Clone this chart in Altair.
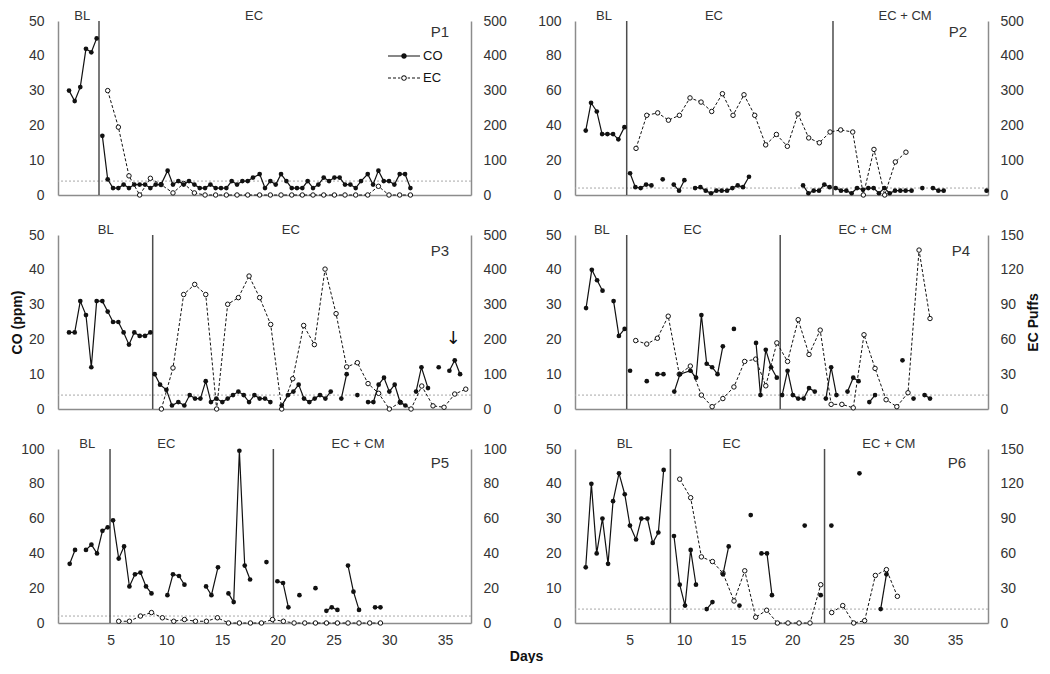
import altair as alt
import pandas as pd

FONT = "Liberation Sans"
INK = "#111111"
FRAME = "#8c8c8c"
PHASE = "#4d4d4d"
THRESH = "#a8a8a8"
TXT = "#333333"

X_TICKS = [5, 10, 15, 20, 25, 30, 35]
LEFT_DOMAIN = [0.27, 37.34]
RIGHT_DOMAIN = [-0.05, 38.05]
CO_LIMIT = 4

# ---------------- P1 ----------------
p1_co_day = [1.26, 1.77, 2.27, 2.78, 3.26, 3.74, None,
             4.25, 4.73, 5.21, 5.69, 6.16, 6.64, 7.12, 7.60, 8.08, 8.56, 9.04, 9.52, 10.11, 10.59,
             11.07, 11.55, 12.03, 12.51, 12.99, 13.47, 13.95, 14.42, 14.90, 15.38, 15.86, 16.34,
             16.82, 17.30, 17.77, 18.37, 18.85, 19.33, 19.81, 20.29, 20.77, 21.25, 21.72, 22.20,
             22.68, 23.16, 23.64, 24.12, 24.60, 25.08, 25.55, 26.03, 26.51, 26.99, 27.47, 28.07,
             28.55, 29.03, 29.51, 29.98, 30.46, 30.94, 31.42, 31.90]
p1_co = [30, 27, 31, 42, 41, 45, None,
         17, 4.5, 2, 2, 3, 2, 3, 3, 3, 2, 3, 3, 7, 3,
         4, 3, 4, 3, 2, 2, 3, 2, 2, 2, 4, 3,
         4, 4, 5, 6, 2, 4, 3, 6, 4, 2, 2, 2,
         4, 2, 3, 5, 4, 5, 5, 3, 3, 2, 4, 6,
         3, 7, 4, 4, 3, 6, 6, 2]
p1_ec_day = [4.73, 5.69, 6.64, 7.60, 8.56, 9.52, 10.59, 11.55, 12.51, 13.47, 14.42, 15.38, 16.34,
             17.30, 18.37, 19.33, 20.29, 21.25, 22.20, 23.16, 24.12, 25.08, 26.03, 26.99, 28.07,
             29.03, 29.98, 30.94, 31.90]
p1_ec = [300, 195, 55, 0, 48, 30, 6, 33, 6, 0, 0, 0, 0,
         0, 0, 0, 0, 0, 0, 0, 0, 0, 0, 0, 0,
         25, 0, 0, 0]

# ---------------- P2 ----------------
p2_co_day = [0.94, 1.43, 1.96, 2.45, 2.94, 3.46, 3.95, 4.51, None,
             5.03, 5.52, 6.01, 6.51, 7.00, None, 8.04, None, 9.06, 9.55, 10.04, None,
             11.03, 11.52, 12.01, 12.50, 12.99, 13.48, 13.98, 14.47, 14.96, 15.45, 16.00, None,
             20.99, 21.48, 21.97, 22.46, 22.95, 23.44, None,
             24.00, 24.49, 24.98, 25.47, 25.97, 26.52, 27.01, 27.50, 27.99, 28.49, 28.98, 29.47,
             29.96, 30.45, 31.00, None,
             31.99, None, 32.97, 33.47, 33.96, None, 37.92]
p2_co = [37, 53, 48, 35, 35, 35, 32, 39, None,
         12.5, 4.5, 4, 6, 5.5, None, 9, None, 6, 2.5, 8.5, None,
         4, 4.5, 2.5, 1, 2.5, 2.5, 2.5, 4, 5.5, 4.5, 10.5, None,
         5.5, 1, 2.5, 2.5, 6, 4.5, None,
         4, 2.5, 2.5, 1, 4, 3, 4, 4, 1, 4, 1, 2.5,
         2.5, 2.5, 2.5, None,
         4, None, 4, 2.5, 2.5, None, 2.5]
p2_ec_day = [5.58, 6.57, 7.58, 8.57, 9.58, 10.56, 11.58, 12.56, 13.55, 14.53, 15.54, 16.53, 17.54,
             18.53, 19.54, 20.52, 21.51, 22.49, 23.48, 24.46, 25.57, 26.55, 27.53, 28.52, 29.50,
             30.48]
p2_ec = [134, 229, 236, 215, 229, 279, 267, 240, 291, 229, 288, 229, 144,
         174, 140, 233, 164, 150, 181, 187, 181, 0, 131, 0, 95,
         123]

# ---------------- P3 ----------------
p3_co_day = [1.26, 1.77, 2.27, 2.78, 3.26, 3.74, 4.25, 4.73, 5.21, 5.69, 6.16, 6.64, 7.12, 7.60,
             8.08, 8.56, None,
             8.95, 9.43, 10.00, 10.50, 11.07, 11.61, 12.09, 12.57, 13.05, 13.53, 14.00, 14.48,
             15.02, 15.50, 15.98, 16.46, 16.94, 17.42, 17.90, 18.37, 18.85, 19.33, None,
             20.35, 20.92, 21.40, 21.87, 22.35, 22.83, 23.31, 23.79, 24.27, 24.75, None,
             25.70, 26.18, None, 27.14, None,
             28.10, 28.58, 29.05, 29.53, 30.01, 30.49, 30.97, 31.45, None,
             32.41, 32.89, 33.48, None, 34.44, None, 35.40, 35.88, 36.36]
p3_co = [22, 22, 31, 27, 12, 31, 31, 28, 25, 25, 22, 18.5, 22, 21,
         21, 22, None,
         10, 7, 5.5, 1, 2, 1, 4, 3, 3, 8, 2, 3,
         2, 3, 4, 5, 4, 2, 4, 3, 3, 2, None,
         1, 4, 5, 7, 3, 2, 3, 4, 3, 5, None,
         3, 10, None, 4, None,
         2, 2, 7, 9, 5, 7, 2, 1, None,
         5, 12, 6, None, 12, None, 11, 14, 10]
p3_ec_day = [9.55, 10.59, 11.55, 12.54, 13.53, 14.51, 15.50, 16.46, 17.42, 18.37, 19.36, 20.35,
             21.34, 22.32, 23.28, 24.24, 25.23, 26.18, 27.14, 28.10, 29.05, 30.01, 31.00, 31.96,
             32.92, 33.93, 34.92, 35.88, 36.87]
p3_ec = [0, 118, 329, 358, 329, 0, 301, 320, 382, 320, 243, 0,
         87, 240, 185, 402, 274, 121, 133, 73, 45, 0, 19, 0,
         66, 9, 5, 43, 57]

# ---------------- P4 ----------------
p4_co_day = [0.97, 1.50, 1.99, 2.49, None, 3.51, 4.00, 4.53, None,
             5.03, None, 6.57, None, 7.55, 8.11, None,
             9.11, 9.63, 10.59, 11.12, 11.61, 12.10, 12.60, 13.10, 13.59, None, 14.61, None,
             16.65, 17.06, 17.55, 18.04, 18.57, None,
             19.06, 19.56, 20.05, 20.54, 21.04, 21.54, 22.07, None,
             23.09, 23.58, 24.07, None, 25.09, 25.62, 26.11, None, 27.10, 27.63, None,
             30.16, None, 31.18, None, 32.20, 32.70]
p4_co = [29, 40, 37, 34, None, 31, 21, 23, None,
         11, None, 8, None, 10, 10, None,
         5, 10, 11, 9, 27, 13, 12, 10, 18, None, 23, None,
         19, 4, 17, 12, 9, None,
         4, 11, 4, 3, 3, 6, 5, None,
         3, 12, 4, None, 5, 9, 8, None, 2, 4, None,
         14, None, 3, None, 4, 3]
p4_ec_day = [5.55, 6.57, 7.55, 8.55, 9.57, 10.59, 11.61, 12.60, 13.59, 14.61, 15.60, 16.62, 17.55,
             18.57, 19.56, 20.54, 21.54, 22.57, 23.58, 24.57, 25.62, 26.61, 27.63, 28.65, 29.64,
             30.67, 31.69, 32.70]
p4_ec = [59, 56, 61, 80, 30, 37, 12, 2, 9, 19, 41, 43, 20,
         57, 41, 77, 47, 68, 4, 4, 1, 64, 35, 8, 2,
         14, 137, 78]

# ---------------- P5 ----------------
p5_co_day = [1.32, 1.80, None, 2.78, 3.27, 3.77, 4.26, 4.73, None,
             5.21, 5.72, 6.20, 6.68, 7.18, 7.67, 8.17, 8.66, None,
             10.09, 10.59, 11.13, 11.62, None, 13.56, 14.04, 14.63, None,
             15.57, 16.04, 16.55, 17.03, 17.51, None, 18.98, None,
             19.96, 20.47, 20.95, None, 21.94, None, 23.38, None,
             24.36, 24.84, 25.35, None, 26.30, 26.79, 27.29, None, 28.73, 29.21]
p5_co = [34, 42, None, 42, 45, 40, 53, 55, None,
         59, 37, 44, 21, 28, 29, 21, 17, None,
         16, 28, 27, 22, None, 21, 16, 32, None,
         17, 12, 99, 33, 25, None, 35, None,
         24, 23, 9, None, 16, None, 20, None,
         7, 9, 7.5, None, 33, 18, 7.5, None, 9, 9]
p5_ec_day = [5.72, 6.68, 7.67, 8.66, 9.64, 10.66, 11.62, 12.61, 13.59, 14.58, 15.57, 16.55, 17.54,
             18.53, 19.52, 20.50, 21.46, 22.42, 23.38, 24.37, 25.35, 26.30, 27.29, 28.25, 29.21]
p5_ec = [1, 1, 4, 6, 3, 1, 2, 1, 1, 3, 0, 0, 0,
         0, 2, 1, 0, 0, 0, 0, 0, 0, 0, 0, 0]

# ---------------- P6 ----------------
p6_co_day = [0.94, 1.46, 1.95, 2.48, 3.00, 3.46, 4.01, 4.54, 5.02, 5.58, 6.07, 6.63, 7.12, 7.64,
             8.13, None,
             9.08, 9.61, 10.10, 10.62, 11.11, None, 12.10, 12.63, None, 13.60, 14.13, None,
             15.12, None, 16.16, None, 17.15, 17.66, 18.12, None, 21.14, None, 22.62, None,
             23.60, None, 26.19, None, 28.15, 28.68]
p6_co = [16, 40, 20, 30, 17, 35, 43, 37, 28, 24, 30, 30, 23, 26,
         44, None,
         25, 11, 5, 21, 11, None, 4, 6, None, 14, 22, None,
         5, None, 31, None, 20, 20, 8, None, 28, None, 8, None,
         28, None, 43, None, 4, 14]
p6_ec_day = [9.61, 10.62, 11.61, 12.63, 13.60, 14.62, 15.61, 16.62, 17.63, 18.62, 19.60, 20.62,
             21.63, 22.62, None,
             23.63, 24.65, 25.66, 26.67, 27.66, 28.68, 29.69]
p6_ec = [124, 108, 57, 53, 43, 19, 45, 5, 11, 0, 0, 0,
         0, 33, None,
         9, 15, 0, 2, 41, 46, 23]

PANELS = [
    dict(tag="P1", co_day=p1_co_day, co=p1_co, ec_day=p1_ec_day, ec=p1_ec,
         phases=[3.95], labels=[("BL", 2.45), ("EC", 17.87)],
         co_max=50, co_step=10, ec_max=500, ec_step=100, xdom=LEFT_DOMAIN, tag_xy=(382, 11)),
    dict(tag="P2", co_day=p2_co_day, co=p2_co, ec_day=p2_ec_day, ec=p2_ec,
         phases=[4.72, 23.75], labels=[("BL", 2.63), ("EC", 12.77), ("EC + CM", 30.4)],
         co_max=100, co_step=20, ec_max=500, ec_step=100, xdom=RIGHT_DOMAIN, tag_xy=(383, 11)),
    dict(tag="P3", co_day=p3_co_day, co=p3_co, ec_day=p3_ec_day, ec=p3_ec,
         phases=[8.77], labels=[("BL", 4.55), ("EC", 21.16)],
         co_max=50, co_step=10, ec_max=500, ec_step=100, xdom=LEFT_DOMAIN, tag_xy=(382, 16)),
    dict(tag="P4", co_day=p4_co_day, co=p4_co, ec_day=p4_ec_day, ec=p4_ec,
         phases=[4.72, 18.88], labels=[("BL", 2.43), ("EC", 10.8), ("EC + CM", 26.7)],
         co_max=50, co_step=10, ec_max=150, ec_step=30, xdom=RIGHT_DOMAIN, tag_xy=(386, 16)),
    dict(tag="P5", co_day=p5_co_day, co=p5_co, ec_day=p5_ec_day, ec=p5_ec,
         phases=[4.94, 19.6], labels=[("BL", 2.9), ("EC", 10.0), ("EC + CM", 27.2)],
         co_max=100, co_step=20, ec_max=100, ec_step=20, xdom=LEFT_DOMAIN, tag_xy=(382, 14)),
    dict(tag="P6", co_day=p6_co_day, co=p6_co, ec_day=p6_ec_day, ec=p6_ec,
         phases=[8.75, 22.97], labels=[("BL", 4.53), ("EC", 14.4), ("EC + CM", 28.9)],
         co_max=50, co_step=10, ec_max=150, ec_step=30, xdom=RIGHT_DOMAIN, tag_xy=(382, 14)),
]

ARROW = dict(day=35.76, co=20.0)
LEGEND_SERIES = ["CO", "EC"]

# legend keys (unit square = 10 px): solid line + dot, dashed line + open ring
CO_PATH = ("M-1.6,-0.06L1.6,-0.06L1.6,0.06L-1.6,0.06Z"
           "M0.28,0A0.28,0.28,0,1,1,-0.28,0A0.28,0.28,0,1,1,0.28,0Z")
_dash = ""
for a, b in [(-1.6, -1.3), (-1.1, -0.8), (-0.6, -0.37), (0.37, 0.6), (0.8, 1.1), (1.3, 1.6)]:
    _dash += "M%.2f,-0.05L%.2f,-0.05L%.2f,0.05L%.2f,0.05Z" % (a, b, b, a)
EC_PATH = (_dash +
           "M0.28,0A0.28,0.28,0,1,1,-0.28,0A0.28,0.28,0,1,1,0.28,0Z"
           "M0.18,0A0.18,0.18,0,1,0,-0.18,0A0.18,0.18,0,1,0,0.18,0Z")


def seg_frame(days, vals, name):
    assert len(days) == len(vals), (name, len(days), len(vals))
    rows, seg = [], 0
    for d, v in zip(days, vals):
        if v is None:
            seg += 1
            continue
        rows.append({"day": d, "v": v, "seg": seg, "series": name})
    return pd.DataFrame(rows)


def make_panel(cfg, idx):
    row, col = divmod(idx, 2)
    bottom = row == 2
    xaxis_kw = dict(values=X_TICKS, ticks=False, grid=False, labels=bottom, domainColor=FRAME,
                    domainWidth=1.5, labelFontSize=14, labelColor=TXT, labelPadding=10,
                    labelFlush=False, title=None)
    if bottom and col == 0:
        xaxis_kw.update(title="Days", titleX=468, titleY=33, titleAlign="center",
                        titleBaseline="middle", titleFontSize=14, titleFontWeight="bold",
                        titleColor=INK)
    X = alt.X("day:Q", scale=alt.Scale(domain=cfg["xdom"], nice=False, zero=False),
              axis=alt.Axis(**xaxis_kw))

    co_scale = alt.Scale(domain=[0, cfg["co_max"]], nice=False, zero=True)
    ec_scale = alt.Scale(domain=[0, cfg["ec_max"]], nice=False, zero=True)

    left_kw = dict(orient="left", values=list(range(0, cfg["co_max"] + 1, cfg["co_step"])),
                   ticks=False, grid=False, domainColor=FRAME, domainWidth=1.5, labelFontSize=14,
                   labelColor=TXT, labelPadding=14, labelFlush=False, labelOverlap=False,
                   title=None)
    if idx == 2:
        left_kw.update(title="CO (ppm)", titleFontSize=14, titleFontWeight="bold",
                       titleColor=INK, titlePadding=4)
    right_kw = dict(orient="right", values=list(range(0, cfg["ec_max"] + 1, cfg["ec_step"])),
                    ticks=False, grid=False, domainColor=FRAME, domainWidth=1.5, labelFontSize=14,
                    labelColor=TXT, labelPadding=12, labelFlush=False, labelOverlap=False,
                    title=None)
    if idx == 3:
        right_kw.update(title="EC Puffs", titleFontSize=14, titleFontWeight="bold",
                        titleColor=INK, titlePadding=3, titleAngle=270, titleBaseline="top")

    co = seg_frame(cfg["co_day"], cfg["co"], "CO")
    ec = seg_frame(cfg["ec_day"], cfg["ec"], "EC")

    thr = alt.Chart(pd.DataFrame({"t": [CO_LIMIT]})).mark_rule(
        color=THRESH, strokeDash=[2, 2], strokeWidth=1
    ).encode(y=alt.Y("t:Q", scale=co_scale, axis=None))

    phase_rules = alt.Chart(pd.DataFrame({"day": cfg["phases"]})).mark_rule(
        color=PHASE, strokeWidth=1.5
    ).encode(x=X)

    lab = pd.DataFrame({"label": [l for l, _ in cfg["labels"]], "day": [d for _, d in cfg["labels"]]})
    phase_text = alt.Chart(lab).mark_text(fontSize=13, color=TXT, baseline="middle").encode(
        x=X, y=alt.value(-5), text="label:N")

    co_line = alt.Chart(co).mark_line(color=INK, strokeWidth=1.2).encode(
        x=X, y=alt.Y("v:Q", scale=co_scale, axis=None), detail="seg:N")
    ec_line = alt.Chart(ec).mark_line(color=INK, strokeWidth=1, strokeDash=[3, 2]).encode(
        x=X, y=alt.Y("v:Q", scale=ec_scale, axis=None), detail="seg:N")

    ec_pts = alt.Chart(ec).mark_point(filled=True, fill="white", stroke=INK, strokeWidth=1,
                                      size=20, opacity=1).encode(
        x=X, y=alt.Y("v:Q", scale=ec_scale, axis=alt.Axis(**right_kw)))
    co_pts = alt.Chart(co).mark_point(filled=True, color=INK, size=22, opacity=1).encode(
        x=X, y=alt.Y("v:Q", scale=co_scale, axis=alt.Axis(**left_kw)))

    tag = alt.Chart(pd.DataFrame({"t": [cfg["tag"]]})).mark_text(
        fontSize=15, color=TXT, baseline="middle", align="center").encode(
        x=alt.value(cfg["tag_xy"][0]), y=alt.value(cfg["tag_xy"][1]), text="t:N")

    layers = [thr, phase_rules, ec_line, ec_pts, co_line, co_pts, phase_text, tag]
    if idx == 2:
        arrow = alt.Chart(pd.DataFrame({"day": [ARROW["day"]], "v": [ARROW["co"]], "t": ["↓"]})).mark_text(
            fontSize=18, font="DejaVu Sans", color=INK, baseline="middle").encode(
            x=X, y=alt.Y("v:Q", scale=co_scale, axis=None), text="t:N")
        layers.append(arrow)
    if idx == 0:
        legend = alt.Legend(
            title=None, orient="none", legendX=336, legendY=25, padding=0,
            symbolSize=400, symbolFillColor=INK, symbolStrokeWidth=0,
            labelFontSize=13, labelColor=INK, labelOffset=9, rowPadding=5,
        )
        key = alt.Chart(pd.DataFrame({"series": LEGEND_SERIES})).transform_filter(
            "datum.series === 'none'"
        ).mark_point(filled=True, color=INK, opacity=1).encode(
            x=alt.value(0), y=alt.value(0),
            shape=alt.Shape("series:N", scale=alt.Scale(domain=LEGEND_SERIES, range=[CO_PATH, EC_PATH]),
                            legend=legend),
        )
        layers.append(key)

    return alt.layer(*layers).resolve_scale(y="independent").properties(width=413, height=174)


panels = [make_panel(cfg, i) for i, cfg in enumerate(PANELS)]

chart = alt.concat(
    *panels, columns=2, spacing={"row": 40, "column": 104}, bounds="flush"
).resolve_scale(
    x="independent", shape="independent"
).resolve_legend(
    shape="independent"
).properties(
    padding={"left": 2, "top": 2, "right": 0, "bottom": 0}
).configure(
    font=FONT
).configure_view(
    stroke=None
)

chart.save("out.html", embed_options={"renderer": "svg", "actions": False})
